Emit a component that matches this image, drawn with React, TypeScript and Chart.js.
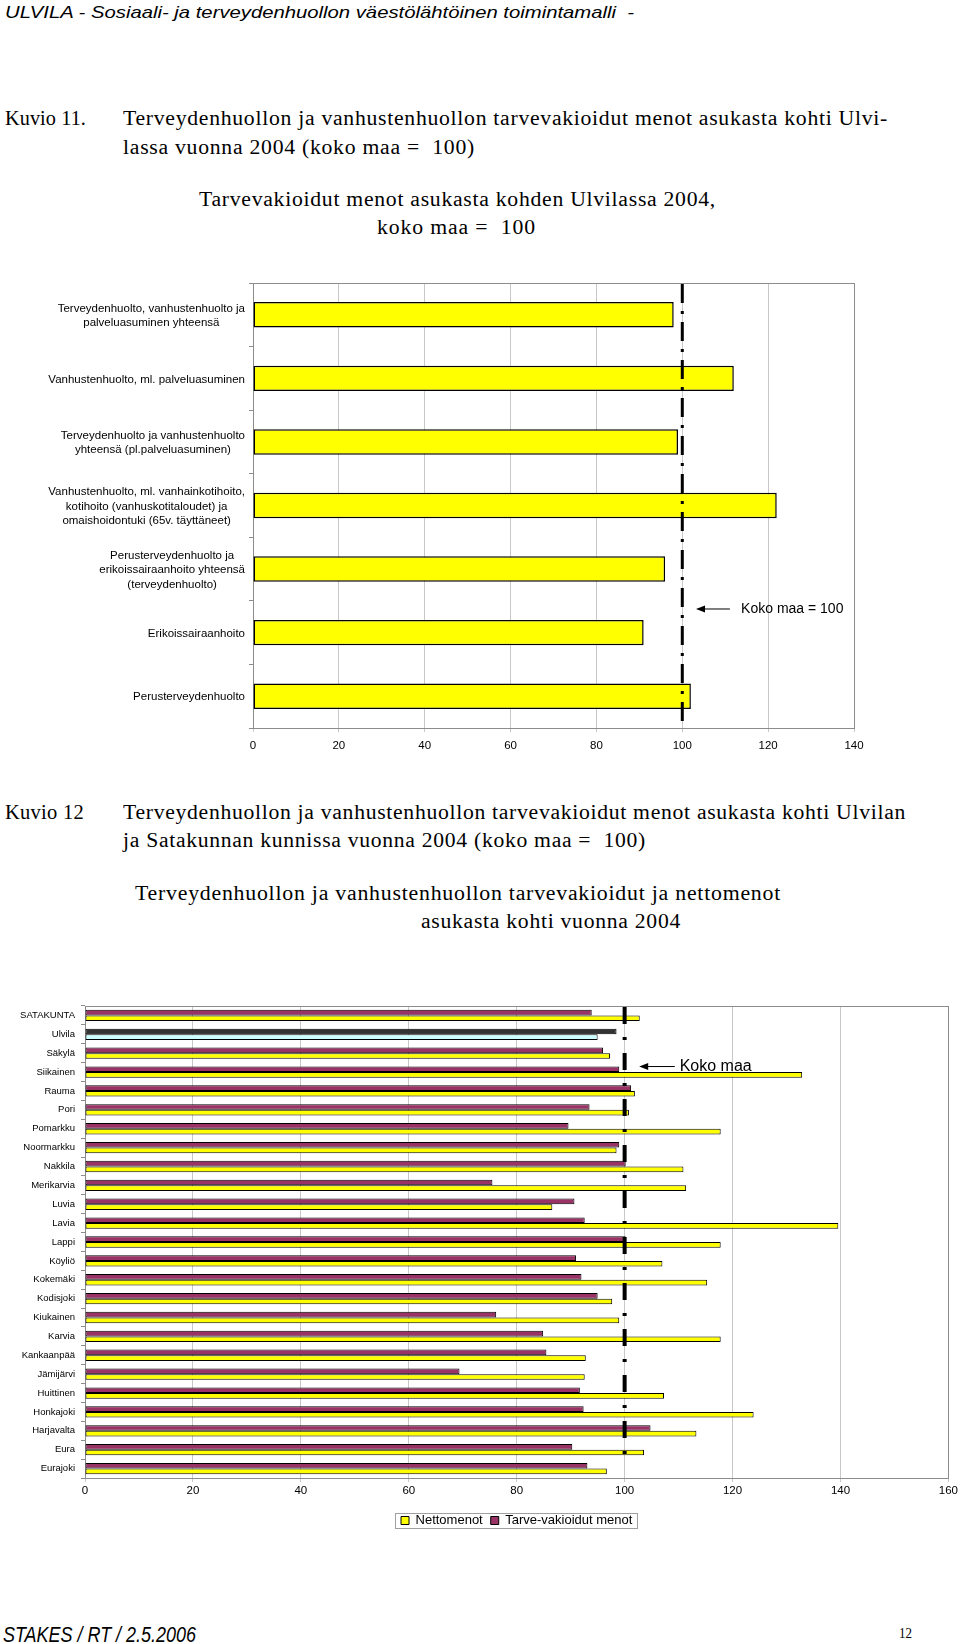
import React, { useEffect, useLayoutEffect, useRef } from "react";
import { Chart, registerables } from "chart.js";
Chart.register(...registerables);

// ---------- Data ----------
const chart1Labels: string[][] = [
  ["Terveydenhuolto, vanhustenhuolto ja", "palveluasuminen yhteensä"],
  ["Vanhustenhuolto, ml. palveluasuminen"],
  ["Terveydenhuolto ja vanhustenhuolto", "yhteensä (pl.palveluasuminen)"],
  ["Vanhustenhuolto, ml. vanhainkotihoito,", "kotihoito (vanhuskotitaloudet) ja", "omaishoidontuki (65v. täyttäneet)"],
  ["Perusterveydenhuolto ja", "erikoissairaanhoito yhteensä", "(terveydenhuolto)"],
  ["Erikoissairaanhoito"],
  ["Perusterveydenhuolto"],
];
const chart1Values = [98, 112, 99, 122, 96, 91, 102];
const chart1Ticks = [0, 20, 40, 60, 80, 100, 120, 140];
const kokoMaa = 100;

const municipalities = [
  "SATAKUNTA", "Ulvila", "Säkylä", "Siikainen", "Rauma", "Pori", "Pomarkku", "Noormarkku",
  "Nakkila", "Merikarvia", "Luvia", "Lavia", "Lappi", "Köyliö", "Kokemäki", "Kodisjoki",
  "Kiukainen", "Karvia", "Kankaanpää", "Jämijärvi", "Huittinen", "Honkajoki", "Harjavalta",
  "Eura", "Eurajoki",
];
const tarveVakioidut = [
  93.9, 98.5, 96.0, 99.0, 101.2, 93.5, 89.6, 99.0, 100.2, 75.5, 90.7, 92.6, 100.2, 91.0, 92.0,
  95.0, 76.2, 84.9, 85.5, 69.4, 91.7, 92.4, 104.8, 90.3, 93.1,
];
const nettomenot = [
  102.8, 95.0, 97.3, 132.9, 101.9, 100.8, 117.8, 98.5, 110.9, 111.4, 86.6, 139.6, 117.8, 107.0,
  115.3, 97.7, 99.0, 117.8, 92.8, 92.6, 107.3, 123.9, 113.3, 103.6, 96.7,
];
const chart2Ticks = [0, 20, 40, 60, 80, 100, 120, 140, 160];
const highlighted = "Ulvila";

// ---------- Styling / annotation config ----------
const SANS = '"Liberation Sans", Arial, sans-serif';
const SERIF = '"Liberation Serif", "Times New Roman", serif';
Chart.defaults.font.family = SANS;
Chart.defaults.color = "#000";

const note1 = { text: "Koko maa = 100", yIndex: 4.62, xHead: 103.2, xTail: 111.1, xText: 113.7, size: 14 };
const note2 = { text: "Koko maa", yIndex: 2.68, xHead: 102.7, xTail: 109.3, xText: 110.2, size: 16 };

// ---------- Plugins ----------
const framePlugin = {
  id: "frame",
  beforeDatasetsDraw(chart: any) {
    const { ctx, chartArea: a } = chart;
    ctx.save();
    ctx.strokeStyle = "#8c8c8c";
    ctx.lineWidth = 1;
    ctx.strokeRect(Math.round(a.left) + 0.5, Math.round(a.top) + 0.5, Math.round(a.right - a.left), Math.round(a.bottom - a.top));
    ctx.restore();
  },
};

function kokoLinePlugin(width: number, dash: number[], bottomGap: number) {
  return {
    id: "kokoLine",
    afterDatasetsDraw(chart: any) {
      const { ctx, chartArea: a } = chart;
      const x = chart.scales.x.getPixelForValue(kokoMaa);
      ctx.save();
      ctx.strokeStyle = "#000";
      ctx.lineWidth = width;
      ctx.setLineDash(dash);
      ctx.beginPath();
      ctx.moveTo(x, a.top + 1);
      ctx.lineTo(x, a.bottom - bottomGap);
      ctx.stroke();
      ctx.restore();
    },
  };
}

function arrowPlugin(note: any) {
  return {
    id: "arrowNote",
    afterDatasetsDraw(chart: any) {
      const { ctx } = chart;
      const xs = chart.scales.x, ys = chart.scales.y;
      const y = ys.getPixelForValue(note.yIndex);
      const xh = xs.getPixelForValue(note.xHead);
      const xt = xs.getPixelForValue(note.xTail);
      const xx = xs.getPixelForValue(note.xText);
      ctx.save();
      ctx.strokeStyle = "#000";
      ctx.fillStyle = "#000";
      ctx.lineWidth = 1;
      ctx.beginPath();
      ctx.moveTo(xt, y + 0.5);
      ctx.lineTo(xh + 6, y + 0.5);
      ctx.stroke();
      ctx.beginPath();
      ctx.moveTo(xh, y + 0.5);
      ctx.lineTo(xh + 9, y - 3);
      ctx.lineTo(xh + 9, y + 4);
      ctx.closePath();
      ctx.fill();
      ctx.font = `${note.size}px ${SANS}`;
      ctx.textAlign = "left";
      ctx.textBaseline = "middle";
      ctx.fillText(note.text, xx, y + 1);
      ctx.restore();
    },
  };
}

const blockLabelsPlugin = {
  id: "blockLabels",
  afterDraw(chart: any) {
    const { ctx } = chart;
    const ys = chart.scales.y;
    const right = ys.right - 8;
    const lh = 14.4;
    ctx.save();
    ctx.font = `11.5px ${SANS}`;
    ctx.fillStyle = "#000";
    ctx.textAlign = "center";
    ctx.textBaseline = "middle";
    chart1Labels.forEach((lines, i) => {
      const cy = ys.getPixelForValue(i);
      const w = Math.max(...lines.map((l) => ctx.measureText(l).width));
      const cx = right - w / 2;
      lines.forEach((l, j) => ctx.fillText(l, cx, cy + (j - (lines.length - 1) / 2) * lh + 1));
    });
    ctx.restore();
  },
};

const legendFramePlugin = {
  id: "legendFrame",
  afterDraw(chart: any) {
    const lg = chart.legend;
    if (!lg || !lg.legendHitBoxes || !lg.legendHitBoxes.length) return;
    const hb = lg.legendHitBoxes;
    const l = Math.min(...hb.map((h: any) => h.left)) - 6;
    const r = Math.max(...hb.map((h: any) => h.left + h.width)) + 5;
    const t = Math.min(...hb.map((h: any) => h.top)) - 1;
    const b = Math.max(...hb.map((h: any) => h.top + h.height)) + 1;
    const { ctx } = chart;
    ctx.save();
    ctx.strokeStyle = "#a0a0a0";
    ctx.lineWidth = 1;
    ctx.strokeRect(Math.round(l) + 0.5, Math.round(t) + 0.5, Math.round(r - l), Math.round(b - t));
    ctx.restore();
  },
};

const isHighlighted = (c: any) => c.dataIndex !== undefined && municipalities[c.dataIndex] === highlighted;

// ---------- Text helper: fits a line to its measured width ----------
function Txt(props: { x: number; cy: number; w: number; size: number; font: string; italic?: boolean; spread?: number; children: string }) {
  const ref = useRef<HTMLDivElement>(null);
  useLayoutEffect(() => {
    const el = ref.current;
    if (!el) return;
    el.style.transform = "none";
    el.style.letterSpacing = "0px";
    const actual = el.getBoundingClientRect().width;
    if (actual <= 0) return;
    const spread = props.spread ?? 0;
    if (props.w > actual && spread > 0) {
      const n = Math.max(1, props.children.length - 1);
      el.style.letterSpacing = `${(spread * (props.w - actual)) / n}px`;
    }
    const now = el.getBoundingClientRect().width;
    if (now > 0) el.style.transform = `scaleX(${props.w / now})`;
  }, [props.w]);
  return (
    <div
      ref={ref}
      style={{
        position: "absolute",
        left: props.x,
        top: props.cy - props.size / 2,
        fontFamily: props.font,
        fontSize: props.size,
        lineHeight: `${props.size}px`,
        fontStyle: props.italic ? "italic" : "normal",
        whiteSpace: "pre",
        transformOrigin: "0 50%",
        color: "#000",
      }}
    >
      {props.children}
    </div>
  );
}

// ---------- Charts ----------
function Chart1() {
  const ref = useRef<HTMLCanvasElement>(null);
  useEffect(() => {
    const chart = new Chart(ref.current!, {
      type: "bar",
      data: {
        labels: chart1Labels.map((l) => l.join(" ")),
        datasets: [
          {
            data: chart1Values,
            backgroundColor: "#FFFF00",
            borderColor: "#000",
            borderWidth: 1.5,
            borderSkipped: false,
            barPercentage: 0.4,
            categoryPercentage: 1,
          } as any,
        ],
      },
      options: {
        indexAxis: "y",
        animation: false,
        responsive: false,
        maintainAspectRatio: false,
        layout: { padding: { top: 13, right: 106, left: 0, bottom: 0 } },
        scales: {
          x: {
            min: chart1Ticks[0],
            max: chart1Ticks[chart1Ticks.length - 1],
            afterBuildTicks: (s: any) => { s.ticks = chart1Ticks.map((v) => ({ value: v })); },
            grid: { color: "#c8c8c8", tickLength: 4 },
            border: { color: "#8c8c8c" },
            ticks: { font: { size: 11.5 }, padding: 7, color: "#000" },
            afterFit: (s: any) => { s.height = 32; },
          },
          y: {
            grid: { drawOnChartArea: false, tickLength: 4, color: "#8c8c8c" },
            border: { color: "#8c8c8c" },
            ticks: { display: false },
            afterFit: (s: any) => { s.width = 253; },
          },
        },
        plugins: { legend: { display: false }, tooltip: { enabled: false } },
      } as any,
      plugins: [framePlugin, kokoLinePlugin(3, [19, 8, 3, 8], 5), arrowPlugin(note1), blockLabelsPlugin],
    });
    return () => chart.destroy();
  }, []);
  return <canvas ref={ref} width={960} height={490} style={{ width: 960, height: 490, display: "block" }} />;
}

function Chart2() {
  const ref = useRef<HTMLCanvasElement>(null);
  useEffect(() => {
    const chart = new Chart(ref.current!, {
      type: "bar",
      data: {
        labels: municipalities,
        datasets: [
          {
            label: "Tarve-vakioidut menot",
            data: tarveVakioidut,
            backgroundColor: (c: any) => (isHighlighted(c) ? "#333333" : "#993366"),
            borderColor: "#000",
            borderWidth: 1,
            borderSkipped: false,
            categoryPercentage: 0.6,
            barPercentage: 1,
          } as any,
          {
            label: "Nettomenot",
            data: nettomenot,
            backgroundColor: (c: any) => (isHighlighted(c) ? "#CCFFFF" : "#FFFF00"),
            borderColor: "#000",
            borderWidth: 1,
            borderSkipped: false,
            categoryPercentage: 0.6,
            barPercentage: 1,
          } as any,
        ],
      },
      options: {
        indexAxis: "y",
        animation: false,
        responsive: false,
        maintainAspectRatio: false,
        layout: { padding: { top: 16, right: 9, left: 0, bottom: 3 } },
        scales: {
          x: {
            min: chart2Ticks[0],
            max: chart2Ticks[chart2Ticks.length - 1],
            afterBuildTicks: (s: any) => { s.ticks = chart2Ticks.map((v) => ({ value: v })); },
            grid: { color: "#c8c8c8", tickLength: 4 },
            border: { color: "#8c8c8c" },
            ticks: { font: { size: 11.5 }, padding: 2, color: "#000" },
            afterFit: (s: any) => { s.height = 28; },
          },
          y: {
            grid: { drawOnChartArea: false, tickLength: 4, color: "#8c8c8c" },
            border: { color: "#8c8c8c" },
            ticks: { font: { size: 9.5 }, padding: 6, color: "#000", autoSkip: false },
            afterFit: (s: any) => { s.width = 85; },
          },
        },
        plugins: {
          legend: {
            position: "bottom",
            fullSize: false,
            reverse: true,
            labels: { boxWidth: 8, boxHeight: 8, padding: 8, font: { size: 13 }, color: "#000" },
          },
          tooltip: { enabled: false },
        },
      } as any,
      plugins: [framePlugin, kokoLinePlugin(4, [17, 13, 3, 13], 12), arrowPlugin(note2), legendFramePlugin],
    });
    return () => chart.destroy();
  }, []);
  return <canvas ref={ref} width={960} height={550} style={{ width: 960, height: 550, display: "block" }} />;
}

export default function App() {
  const sp = 0.45;
  return (
    <div style={{ position: "absolute", left: 0, top: 0, width: 960, height: 1644, background: "#fff", overflow: "hidden" }}>
      <Txt x={5} cy={12.5} w={629} size={16.5} font={SANS} italic>
        {"ULVILA - Sosiaali- ja terveydenhuollon väestölähtöinen toimintamalli  -"}
      </Txt>

      <Txt x={5} cy={117.5} w={81} size={20} font={SERIF} spread={sp}>{"Kuvio 11."}</Txt>
      <Txt x={122.5} cy={117.5} w={765} size={20} font={SERIF} spread={sp}>
        {"Terveydenhuollon ja vanhustenhuollon tarvevakioidut menot asukasta kohti Ulvi-"}
      </Txt>
      <Txt x={122.5} cy={146.5} w={352} size={20} font={SERIF} spread={sp}>{"lassa vuonna 2004 (koko maa =  100)"}</Txt>

      <Txt x={199} cy={198.5} w={517} size={20} font={SERIF} spread={sp}>
        {"Tarvevakioidut menot asukasta kohden Ulvilassa 2004,"}
      </Txt>
      <Txt x={377} cy={226.5} w={159} size={20} font={SERIF} spread={sp}>{"koko maa =  100"}</Txt>

      <div style={{ position: "absolute", left: 0, top: 270 }}>
        <Chart1 />
      </div>

      <Txt x={5} cy={811.5} w={79} size={20} font={SERIF} spread={sp}>{"Kuvio 12"}</Txt>
      <Txt x={122.5} cy={811.5} w={783} size={20} font={SERIF} spread={sp}>
        {"Terveydenhuollon ja vanhustenhuollon tarvevakioidut menot asukasta kohti Ulvilan"}
      </Txt>
      <Txt x={122.5} cy={839.5} w={523} size={20} font={SERIF} spread={sp}>
        {"ja Satakunnan kunnissa vuonna 2004 (koko maa =  100)"}
      </Txt>

      <Txt x={135} cy={892.5} w={646} size={20} font={SERIF} spread={sp}>
        {"Terveydenhuollon ja vanhustenhuollon tarvevakioidut ja nettomenot"}
      </Txt>
      <Txt x={421} cy={921} w={260} size={20} font={SERIF} spread={sp}>{"asukasta kohti vuonna 2004"}</Txt>

      <div style={{ position: "absolute", left: 0, top: 990 }}>
        <Chart2 />
      </div>

      <Txt x={3} cy={1634.5} w={193} size={22} font={SANS} italic>{"STAKES / RT / 2.5.2006"}</Txt>
      <Txt x={899} cy={1633} w={13} size={15} font={SERIF}>{"12"}</Txt>
    </div>
  );
}
